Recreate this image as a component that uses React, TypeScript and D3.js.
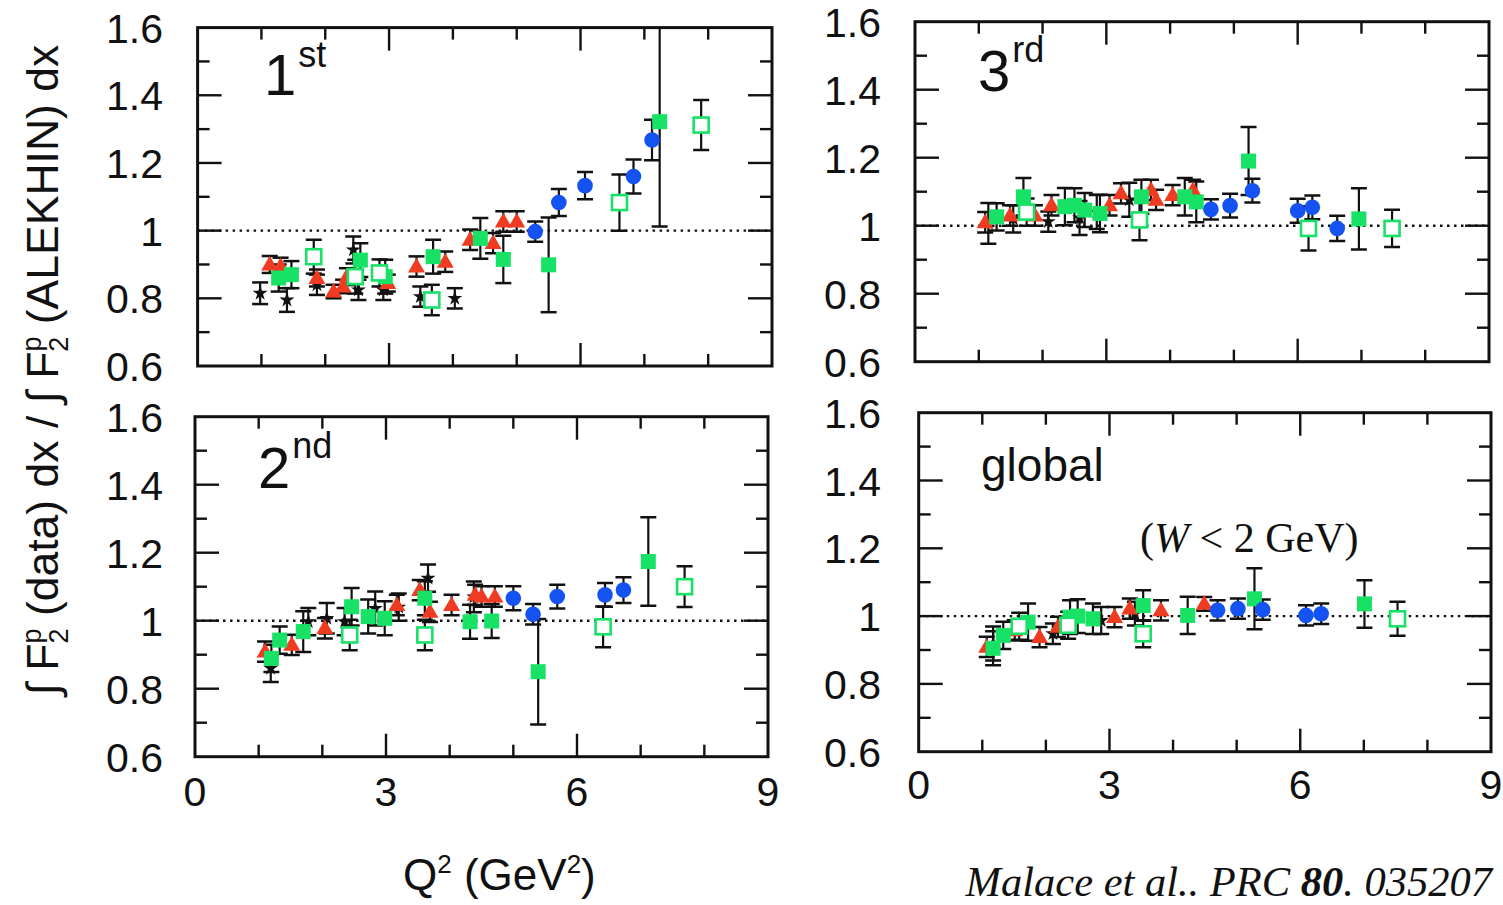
import React from 'react';
import * as d3 from 'd3';

type Pt = [number, number, number]; // Q2, ratio, error

// 1st resonance region
const firstStars: Pt[] = [[0.98, 0.815, 0.032], [1.4, 0.795, 0.035], [1.87, 0.84, 0.03], [2.44, 0.943, 0.04], [2.52, 0.825, 0.03], [2.91, 0.825, 0.03], [3.49, 0.805, 0.03], [4.03, 0.8, 0.03]];
const firstTriangles: Pt[] = [[1.13, 0.9, 0.025], [1.3, 0.895, 0.025], [1.87, 0.86, 0.025], [2.13, 0.82, 0.02], [2.28, 0.835, 0.02], [2.34, 0.864, 0.025], [2.98, 0.845, 0.025], [3.43, 0.894, 0.03], [3.88, 0.908, 0.03], [4.27, 0.973, 0.03], [4.63, 0.963, 0.03], [4.79, 1.027, 0.03], [5.0, 1.027, 0.03]];
const firstSquares: Pt[] = [[1.27, 0.86, 0.04], [1.47, 0.87, 0.04], [2.55, 0.913, 0.05], [2.94, 0.864, 0.05], [3.69, 0.923, 0.05], [4.43, 0.977, 0.06], [4.79, 0.915, 0.07], [5.5, 0.899, 0.14], [7.24, 1.322, 0.31]];
const firstOpen: Pt[] = [[1.82, 0.923, 0.05], [2.47, 0.864, 0.05], [2.85, 0.875, 0.04], [3.67, 0.795, 0.045], [6.61, 1.083, 0.083], [7.89, 1.312, 0.074]];
const firstCircles: Pt[] = [[5.29, 0.997, 0.03], [5.66, 1.083, 0.04], [6.07, 1.133, 0.04], [6.83, 1.16, 0.05], [7.12, 1.268, 0.06]];

// 2nd resonance region
const secondStars: Pt[] = [[1.19, 0.86, 0.04], [1.78, 0.997, 0.04], [2.07, 1.007, 0.045], [2.35, 0.997, 0.04], [2.83, 1.036, 0.05], [3.2, 1.04, 0.04], [3.66, 1.125, 0.04], [4.38, 1.07, 0.045]];
const secondTriangles: Pt[] = [[1.1, 0.909, 0.03], [1.52, 0.929, 0.03], [2.04, 0.978, 0.03], [3.17, 1.046, 0.03], [3.53, 1.09, 0.03], [3.69, 1.026, 0.03], [4.03, 1.046, 0.03], [4.4, 1.076, 0.03], [4.5, 1.071, 0.03], [4.71, 1.071, 0.03]];
const secondSquares: Pt[] = [[1.2, 0.889, 0.04], [1.33, 0.943, 0.04], [1.7, 0.968, 0.06], [2.46, 1.041, 0.055], [2.72, 1.012, 0.05], [2.98, 1.007, 0.05], [3.61, 1.066, 0.05], [4.32, 0.997, 0.05], [4.66, 0.999, 0.05], [5.39, 0.85, 0.155], [7.12, 1.174, 0.13]];
const secondOpen: Pt[] = [[2.43, 0.958, 0.045], [3.61, 0.958, 0.045], [6.41, 0.982, 0.06], [7.69, 1.1, 0.06]];
const secondCircles: Pt[] = [[5.0, 1.066, 0.035], [5.31, 1.019, 0.03], [5.69, 1.071, 0.035], [6.44, 1.076, 0.035], [6.73, 1.09, 0.038]];

// 3rd resonance region
const thirdStars: Pt[] = [[1.15, 1.007, 0.06], [1.54, 1.02, 0.04], [2.09, 1.012, 0.03], [2.58, 1.023, 0.05], [2.85, 1.04, 0.05], [3.36, 1.076, 0.05]];
const thirdTriangles: Pt[] = [[1.1, 1.01, 0.03], [1.49, 1.03, 0.03], [1.88, 1.03, 0.03], [2.14, 1.06, 0.03], [3.05, 1.06, 0.03], [3.23, 1.095, 0.03], [3.7, 1.105, 0.03], [3.78, 1.076, 0.03], [4.04, 1.09, 0.03], [4.36, 1.105, 0.03]];
const thirdSquares: Pt[] = [[1.28, 1.026, 0.04], [1.7, 1.085, 0.055], [2.35, 1.056, 0.055], [2.5, 1.06, 0.05], [2.66, 1.046, 0.05], [2.9, 1.036, 0.055], [3.55, 1.085, 0.05], [4.23, 1.085, 0.055], [4.41, 1.07, 0.06], [5.23, 1.19, 0.1], [6.96, 1.02, 0.09]];
const thirdOpen: Pt[] = [[1.75, 1.04, 0.04], [3.52, 1.017, 0.06], [6.17, 0.992, 0.065], [7.48, 0.992, 0.055]];
const thirdCircles: Pt[] = [[4.64, 1.048, 0.03], [4.94, 1.059, 0.035], [5.29, 1.103, 0.035], [6.0, 1.044, 0.035], [6.23, 1.054, 0.035], [6.62, 0.992, 0.037]];

// global (W < 2 GeV)
const globalStars: Pt[] = [[1.17, 0.919, 0.05], [2.11, 0.948, 0.03], [2.87, 0.987, 0.04], [3.4, 1.007, 0.035]];
const globalTriangles: Pt[] = [[1.07, 0.909, 0.03], [1.51, 0.958, 0.03], [1.9, 0.938, 0.03], [2.19, 0.968, 0.03], [3.08, 0.997, 0.03], [3.32, 1.022, 0.03], [3.81, 1.017, 0.03], [4.49, 1.036, 0.02]];
const globalSquares: Pt[] = [[1.17, 0.905, 0.05], [1.33, 0.943, 0.04], [1.72, 0.982, 0.055], [2.38, 0.997, 0.05], [2.5, 1.0, 0.05], [2.74, 0.992, 0.045], [3.53, 1.031, 0.045], [4.23, 1.002, 0.055], [5.28, 1.051, 0.09], [7.01, 1.036, 0.07]];
const globalOpen: Pt[] = [[1.58, 0.97, 0.04], [2.35, 0.973, 0.04], [3.53, 0.948, 0.04], [7.53, 0.992, 0.05]];
const globalCircles: Pt[] = [[4.7, 1.017, 0.03], [5.02, 1.022, 0.03], [5.41, 1.019, 0.03], [6.09, 1.002, 0.03], [6.33, 1.007, 0.03]];

const xTickValues = [0, 3, 6, 9];
const yTickValues = [0.6, 0.8, 1, 1.2, 1.4, 1.6];
const yTickLabels = ['0.6', '0.8', '1', '1.2', '1.4', '1.6'];

const RED = '#ee3b22';
const GREEN = '#17e266';
const BLUE = '#1552f2';
const SANS = '"Liberation Sans", Arial, Helvetica, sans-serif';
const SERIF = '"Liberation Serif", "Times New Roman", serif';

type Box = { id: string; left: number; right: number; top: number; bottom: number };
type Series = { stars: Pt[]; triangles: Pt[]; squares: Pt[]; open: Pt[]; circles: Pt[] };

const starPath = d3.symbol().type(d3.symbolStar).size(70)();
const triPath = d3.symbol().type(d3.symbolTriangle).size(125)();

function Panel({ box, series, xLabels, xLabelY, yLabelX }: { box: Box; series: Series; xLabels: boolean; xLabelY: number; yLabelX: number }) {
  const x = d3.scaleLinear().domain([0, 9]).range([box.left, box.right]);
  const y = d3.scaleLinear().domain([0.6, 1.6]).range([box.bottom, box.top]);
  const all = [...series.stars, ...series.triangles, ...series.squares, ...series.open, ...series.circles];
  const minorX = d3.range(1, 9);
  const minorY = d3.range(7, 16).map((d) => d / 10);

  return (
    <g>
      <clipPath id={`clip-${box.id}`}>
        <rect x={box.left} y={box.top} width={box.right - box.left} height={box.bottom - box.top} />
      </clipPath>
      {/* ticks */}
      <g stroke="#111" strokeWidth={2.4}>
        {minorX.map((v) => {
          const len = v % 3 === 0 ? 23 : 12;
          return (
            <g key={'x' + v}>
              <line x1={x(v)} x2={x(v)} y1={box.bottom} y2={box.bottom - len} />
              <line x1={x(v)} x2={x(v)} y1={box.top} y2={box.top + len} />
            </g>
          );
        })}
        {minorY.map((v) => {
          const len = Math.round(v * 10) % 2 === 0 ? 24 : 12;
          return (
            <g key={'y' + v}>
              <line x1={box.left} x2={box.left + len} y1={y(v)} y2={y(v)} />
              <line x1={box.right} x2={box.right - len} y1={y(v)} y2={y(v)} />
            </g>
          );
        })}
      </g>
      <line x1={box.left} x2={box.right} y1={y(1)} y2={y(1)} stroke="#111" strokeWidth={2.4} strokeDasharray="2.5 4.5" />
      <g clipPath={`url(#clip-${box.id})`}>
        <g stroke="#111" strokeWidth={2.2}>
          {all.map((d, i) => (
            <g key={'e' + i}>
              <line x1={x(d[0])} x2={x(d[0])} y1={y(d[1] - d[2])} y2={y(d[1] + d[2])} />
              <line x1={x(d[0]) - 8} x2={x(d[0]) + 8} y1={y(d[1] - d[2])} y2={y(d[1] - d[2])} strokeWidth={2.5} />
              <line x1={x(d[0]) - 8} x2={x(d[0]) + 8} y1={y(d[1] + d[2])} y2={y(d[1] + d[2])} strokeWidth={2.5} />
            </g>
          ))}
        </g>
        {series.stars.map((d, i) => (
          <path key={'s' + i} d={starPath!} transform={`translate(${x(d[0])},${y(d[1])})`} fill="#111" />
        ))}
        {series.triangles.map((d, i) => (
          <path key={'t' + i} d={triPath!} transform={`translate(${x(d[0])},${y(d[1]) + 1})`} fill={RED} />
        ))}
        {series.squares.map((d, i) => (
          <rect key={'q' + i} x={x(d[0]) - 7.5} y={y(d[1]) - 7.5} width={15} height={15} fill={GREEN} />
        ))}
        {series.open.map((d, i) => (
          <rect key={'o' + i} x={x(d[0]) - 7.5} y={y(d[1]) - 7.5} width={15} height={15} fill="white" stroke={GREEN} strokeWidth={2.6} />
        ))}
        {series.circles.map((d, i) => (
          <circle key={'c' + i} cx={x(d[0])} cy={y(d[1])} r={7.8} fill={BLUE} />
        ))}
      </g>
      <rect x={box.left} y={box.top} width={box.right - box.left} height={box.bottom - box.top} fill="none" stroke="#111" strokeWidth={3} />
      <g fontFamily={SANS} fontSize={41} fill="#111">
        {yTickValues.map((v, i) => (
          <text key={'yl' + v} x={yLabelX} y={y(v) + 15} textAnchor="end">{yTickLabels[i]}</text>
        ))}
        {xLabels &&
          xTickValues.map((v) => (
            <text key={'xl' + v} x={x(v)} y={xLabelY} textAnchor="middle">{v}</text>
          ))}
      </g>
    </g>
  );
}

export default function App() {
  const boxes: Box[] = [
    { id: 'tl', left: 197.6, right: 772, top: 27.6, bottom: 366 },
    { id: 'tr', left: 915, right: 1489, top: 21.7, bottom: 361.7 },
    { id: 'bl', left: 195, right: 768, top: 416.7, bottom: 756.7 },
    { id: 'br', left: 918.7, right: 1491, top: 412.7, bottom: 751.7 },
  ];
  const seriesList: Series[] = [
    { stars: firstStars, triangles: firstTriangles, squares: firstSquares, open: firstOpen, circles: firstCircles },
    { stars: thirdStars, triangles: thirdTriangles, squares: thirdSquares, open: thirdOpen, circles: thirdCircles },
    { stars: secondStars, triangles: secondTriangles, squares: secondSquares, open: secondOpen, circles: secondCircles },
    { stars: globalStars, triangles: globalTriangles, squares: globalSquares, open: globalOpen, circles: globalCircles },
  ];

  return (
    <div style={{ position: 'absolute', left: 0, top: 0 }}>
      <svg width={1503} height={905} style={{ display: 'block', background: 'white' }}>
        <Panel box={boxes[0]} series={seriesList[0]} xLabels={false} xLabelY={0} yLabelX={163} />
        <Panel box={boxes[1]} series={seriesList[1]} xLabels={false} xLabelY={0} yLabelX={881} />
        <Panel box={boxes[2]} series={seriesList[2]} xLabels={true} xLabelY={806} yLabelX={163} />
        <Panel box={boxes[3]} series={seriesList[3]} xLabels={true} xLabelY={799} yLabelX={881} />

        {/* panel labels */}
        <g fontFamily={SANS} fill="#111">
          <text x={264} y={95} fontSize={58}>1<tspan dx={2} dy={-28} fontSize={36}>st</tspan></text>
          <text x={978} y={91} fontSize={58}>3<tspan dx={2} dy={-29} fontSize={36}>rd</tspan></text>
          <text x={258} y={488} fontSize={58}>2<tspan dx={2} dy={-30} fontSize={36}>nd</tspan></text>
          <text x={981} y={481} fontSize={46}>global</text>
        </g>
        <text x={1140} y={552} fontFamily={SERIF} fontSize={42} fill="#111">
          (<tspan fontStyle="italic">W</tspan> &lt; 2 GeV)
        </text>

        {/* axis titles */}
        <text x={403} y={890} fontFamily={SANS} fontSize={44} fill="#111">
          Q<tspan dy={-17} fontSize={26}>2</tspan>
          <tspan dy={17}> (GeV</tspan>
          <tspan dy={-17} fontSize={26}>2</tspan>
          <tspan dy={17}>)</tspan>
        </text>
        <text transform="translate(58,370) rotate(-90)" textAnchor="middle" fontFamily={SANS} fontSize={44.5} fill="#111">
          ∫ F<tspan dy={10} fontSize={27}>2</tspan>
          <tspan dx={-15} dy={-27} fontSize={27}>p</tspan>
          <tspan dy={17}> (data) dx / ∫ F</tspan>
          <tspan dy={10} fontSize={27}>2</tspan>
          <tspan dx={-15} dy={-27} fontSize={27}>p</tspan>
          <tspan dy={17}> (ALEKHIN) dx</tspan>
        </text>

        {/* citation */}
        <text x={1492} y={896} textAnchor="end" fontFamily={SERIF} fontSize={42.5} fontStyle="italic" fill="#111">
          Malace et al.. PRC <tspan fontWeight="bold">80</tspan>. 035207
        </text>
      </svg>
    </div>
  );
}
